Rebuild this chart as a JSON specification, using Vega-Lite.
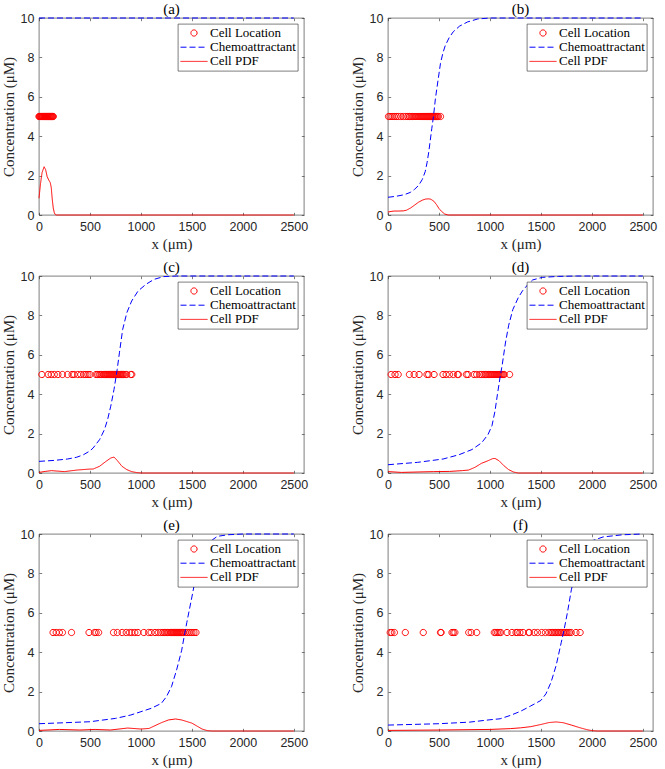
{
"$schema":"https://vega.github.io/schema/vega-lite/v6.json",
"background":"white",
"padding":{"left":0,"top":1,"right":5,"bottom":2},
"datasets":{
"chem":[
{"p":"a","x":0,"y":10},{"p":"a","x":500,"y":10},{"p":"a","x":1000,"y":10},{"p":"a","x":1500,"y":10},{"p":"a","x":2000,"y":10},{"p":"a","x":2500,"y":10},
{"p":"b","x":0,"y":0.9},{"p":"b","x":80,"y":0.95},{"p":"b","x":160,"y":1.03},{"p":"b","x":220,"y":1.15},{"p":"b","x":260,"y":1.3},{"p":"b","x":300,"y":1.5},{"p":"b","x":336,"y":1.8},{"p":"b","x":365,"y":2.2},{"p":"b","x":383,"y":2.65},{"p":"b","x":400,"y":3.2},{"p":"b","x":415,"y":3.8},{"p":"b","x":430,"y":4.4},{"p":"b","x":446,"y":5.0},{"p":"b","x":465,"y":5.9},{"p":"b","x":487,"y":6.7},{"p":"b","x":515,"y":7.7},{"p":"b","x":540,"y":8.25},{"p":"b","x":562,"y":8.6},{"p":"b","x":600,"y":9.0},{"p":"b","x":640,"y":9.3},{"p":"b","x":700,"y":9.58},{"p":"b","x":780,"y":9.8},{"p":"b","x":880,"y":9.95},{"p":"b","x":1000,"y":10},{"p":"b","x":2500,"y":10},
{"p":"c","x":0,"y":0.59},{"p":"c","x":150,"y":0.64},{"p":"c","x":280,"y":0.71},{"p":"c","x":370,"y":0.8},{"p":"c","x":437,"y":0.93},{"p":"c","x":500,"y":1.12},{"p":"c","x":531,"y":1.27},{"p":"c","x":594,"y":1.69},{"p":"c","x":642,"y":2.2},{"p":"c","x":673,"y":2.71},{"p":"c","x":704,"y":3.39},{"p":"c","x":736,"y":4.24},{"p":"c","x":767,"y":5.25},{"p":"c","x":789,"y":6.1},{"p":"c","x":821,"y":7.29},{"p":"c","x":862,"y":8.14},{"p":"c","x":909,"y":8.73},{"p":"c","x":972,"y":9.24},{"p":"c","x":1050,"y":9.58},{"p":"c","x":1129,"y":9.83},{"p":"c","x":1223,"y":9.97},{"p":"c","x":1350,"y":10},{"p":"c","x":2500,"y":10},
{"p":"d","x":0,"y":0.42},{"p":"d","x":289,"y":0.54},{"p":"d","x":541,"y":0.71},{"p":"d","x":698,"y":0.93},{"p":"d","x":824,"y":1.19},{"p":"d","x":918,"y":1.53},{"p":"d","x":981,"y":1.95},{"p":"d","x":1020,"y":2.4},{"p":"d","x":1050,"y":3.15},{"p":"d","x":1074,"y":4.0},{"p":"d","x":1099,"y":4.84},{"p":"d","x":1121,"y":5.5},{"p":"d","x":1152,"y":6.6},{"p":"d","x":1184,"y":7.5},{"p":"d","x":1225,"y":8.3},{"p":"d","x":1278,"y":8.9},{"p":"d","x":1320,"y":9.25},{"p":"d","x":1370,"y":9.55},{"p":"d","x":1419,"y":9.8},{"p":"d","x":1513,"y":9.93},{"p":"d","x":1670,"y":9.98},{"p":"d","x":1850,"y":10},{"p":"d","x":2500,"y":10},
{"p":"e","x":0,"y":0.37},{"p":"e","x":250,"y":0.42},{"p":"e","x":500,"y":0.47},{"p":"e","x":750,"y":0.64},{"p":"e","x":900,"y":0.81},{"p":"e","x":1000,"y":0.98},{"p":"e","x":1100,"y":1.15},{"p":"e","x":1200,"y":1.4},{"p":"e","x":1250,"y":1.74},{"p":"e","x":1300,"y":2.25},{"p":"e","x":1350,"y":3.1},{"p":"e","x":1400,"y":4.1},{"p":"e","x":1430,"y":4.96},{"p":"e","x":1450,"y":5.5},{"p":"e","x":1500,"y":6.8},{"p":"e","x":1530,"y":7.6},{"p":"e","x":1550,"y":7.95},{"p":"e","x":1600,"y":8.7},{"p":"e","x":1650,"y":9.3},{"p":"e","x":1700,"y":9.7},{"p":"e","x":1750,"y":9.88},{"p":"e","x":1850,"y":9.96},{"p":"e","x":2000,"y":10},{"p":"e","x":2500,"y":10},
{"p":"f","x":0,"y":0.3},{"p":"f","x":500,"y":0.37},{"p":"f","x":800,"y":0.45},{"p":"f","x":1000,"y":0.57},{"p":"f","x":1100,"y":0.62},{"p":"f","x":1200,"y":0.79},{"p":"f","x":1300,"y":1.0},{"p":"f","x":1400,"y":1.27},{"p":"f","x":1500,"y":1.55},{"p":"f","x":1550,"y":1.89},{"p":"f","x":1600,"y":2.48},{"p":"f","x":1650,"y":3.33},{"p":"f","x":1700,"y":4.5},{"p":"f","x":1730,"y":5.2},{"p":"f","x":1760,"y":6.0},{"p":"f","x":1800,"y":7.2},{"p":"f","x":1850,"y":8.1},{"p":"f","x":1900,"y":8.8},{"p":"f","x":1950,"y":9.3},{"p":"f","x":2000,"y":9.65},{"p":"f","x":2110,"y":9.85},{"p":"f","x":2300,"y":9.96},{"p":"f","x":2500,"y":10}
],
"pdf":[
{"p":"a","x":0,"y":0.85},{"p":"a","x":15,"y":1.6},{"p":"a","x":30,"y":2.15},{"p":"a","x":50,"y":2.45},{"p":"a","x":65,"y":2.3},{"p":"a","x":80,"y":1.95},{"p":"a","x":95,"y":1.78},{"p":"a","x":110,"y":1.65},{"p":"a","x":120,"y":1.4},{"p":"a","x":130,"y":0.8},{"p":"a","x":140,"y":0.35},{"p":"a","x":150,"y":0.12},{"p":"a","x":160,"y":0.02},{"p":"a","x":170,"y":0},{"p":"a","x":2500,"y":0},
{"p":"b","x":0,"y":0.15},{"p":"b","x":30,"y":0.18},{"p":"b","x":60,"y":0.2},{"p":"b","x":100,"y":0.2},{"p":"b","x":150,"y":0.21},{"p":"b","x":180,"y":0.24},{"p":"b","x":220,"y":0.35},{"p":"b","x":260,"y":0.5},{"p":"b","x":300,"y":0.65},{"p":"b","x":340,"y":0.76},{"p":"b","x":370,"y":0.81},{"p":"b","x":400,"y":0.82},{"p":"b","x":420,"y":0.8},{"p":"b","x":450,"y":0.7},{"p":"b","x":477,"y":0.52},{"p":"b","x":500,"y":0.33},{"p":"b","x":524,"y":0.19},{"p":"b","x":556,"y":0.05},{"p":"b","x":590,"y":0},{"p":"b","x":2500,"y":0},
{"p":"c","x":0,"y":0.03},{"p":"c","x":60,"y":0.08},{"p":"c","x":123,"y":0.12},{"p":"c","x":248,"y":0.07},{"p":"c","x":374,"y":0.15},{"p":"c","x":500,"y":0.2},{"p":"c","x":531,"y":0.2},{"p":"c","x":594,"y":0.34},{"p":"c","x":657,"y":0.59},{"p":"c","x":704,"y":0.76},{"p":"c","x":736,"y":0.81},{"p":"c","x":767,"y":0.64},{"p":"c","x":814,"y":0.34},{"p":"c","x":862,"y":0.17},{"p":"c","x":909,"y":0.07},{"p":"c","x":960,"y":0.02},{"p":"c","x":1003,"y":0},{"p":"c","x":2500,"y":0},
{"p":"d","x":0,"y":0.07},{"p":"d","x":132,"y":0.03},{"p":"d","x":446,"y":0.07},{"p":"d","x":604,"y":0.08},{"p":"d","x":729,"y":0.12},{"p":"d","x":791,"y":0.15},{"p":"d","x":854,"y":0.29},{"p":"d","x":917,"y":0.49},{"p":"d","x":980,"y":0.62},{"p":"d","x":1027,"y":0.73},{"p":"d","x":1050,"y":0.74},{"p":"d","x":1090,"y":0.62},{"p":"d","x":1137,"y":0.37},{"p":"d","x":1184,"y":0.17},{"p":"d","x":1231,"y":0.05},{"p":"d","x":1278,"y":0},{"p":"d","x":2500,"y":0},
{"p":"e","x":0,"y":0.03},{"p":"e","x":200,"y":0.08},{"p":"e","x":400,"y":0.05},{"p":"e","x":550,"y":0.08},{"p":"e","x":700,"y":0.05},{"p":"e","x":870,"y":0.15},{"p":"e","x":1000,"y":0.1},{"p":"e","x":1080,"y":0.13},{"p":"e","x":1150,"y":0.3},{"p":"e","x":1200,"y":0.42},{"p":"e","x":1270,"y":0.56},{"p":"e","x":1340,"y":0.61},{"p":"e","x":1400,"y":0.56},{"p":"e","x":1450,"y":0.48},{"p":"e","x":1500,"y":0.4},{"p":"e","x":1550,"y":0.25},{"p":"e","x":1600,"y":0.1},{"p":"e","x":1650,"y":0.02},{"p":"e","x":1700,"y":0},{"p":"e","x":2500,"y":0},
{"p":"f","x":0,"y":0.03},{"p":"f","x":500,"y":0.05},{"p":"f","x":1000,"y":0.08},{"p":"f","x":1200,"y":0.12},{"p":"f","x":1300,"y":0.16},{"p":"f","x":1400,"y":0.22},{"p":"f","x":1500,"y":0.33},{"p":"f","x":1580,"y":0.43},{"p":"f","x":1650,"y":0.46},{"p":"f","x":1720,"y":0.42},{"p":"f","x":1800,"y":0.3},{"p":"f","x":1880,"y":0.17},{"p":"f","x":1950,"y":0.07},{"p":"f","x":2000,"y":0.02},{"p":"f","x":2050,"y":0},{"p":"f","x":2500,"y":0}
],
"cells":[
{"p":"a","x":0,"y":5},{"p":"a","x":5,"y":5},{"p":"a","x":10,"y":5},{"p":"a","x":15,"y":5},{"p":"a","x":20,"y":5},{"p":"a","x":25,"y":5},{"p":"a","x":30,"y":5},{"p":"a","x":35,"y":5},{"p":"a","x":40,"y":5},{"p":"a","x":45,"y":5},{"p":"a","x":50,"y":5},{"p":"a","x":55,"y":5},{"p":"a","x":60,"y":5},{"p":"a","x":65,"y":5},{"p":"a","x":70,"y":5},{"p":"a","x":75,"y":5},{"p":"a","x":80,"y":5},{"p":"a","x":85,"y":5},{"p":"a","x":90,"y":5},{"p":"a","x":95,"y":5},{"p":"a","x":100,"y":5},{"p":"a","x":105,"y":5},{"p":"a","x":110,"y":5},{"p":"a","x":115,"y":5},{"p":"a","x":120,"y":5},{"p":"a","x":125,"y":5},{"p":"a","x":130,"y":5},{"p":"a","x":135,"y":5},{"p":"a","x":140,"y":5},
{"p":"b","x":5,"y":5},{"p":"b","x":20,"y":5},{"p":"b","x":40,"y":5},{"p":"b","x":60,"y":5},{"p":"b","x":80,"y":5},{"p":"b","x":100,"y":5},{"p":"b","x":125,"y":5},{"p":"b","x":150,"y":5},{"p":"b","x":175,"y":5},{"p":"b","x":195,"y":5},{"p":"b","x":210,"y":5},{"p":"b","x":225,"y":5},{"p":"b","x":240,"y":5},{"p":"b","x":255,"y":5},{"p":"b","x":265,"y":5},{"p":"b","x":275,"y":5},{"p":"b","x":285,"y":5},{"p":"b","x":295,"y":5},{"p":"b","x":305,"y":5},{"p":"b","x":315,"y":5},{"p":"b","x":325,"y":5},{"p":"b","x":335,"y":5},{"p":"b","x":345,"y":5},{"p":"b","x":355,"y":5},{"p":"b","x":365,"y":5},{"p":"b","x":375,"y":5},{"p":"b","x":385,"y":5},{"p":"b","x":395,"y":5},{"p":"b","x":405,"y":5},{"p":"b","x":415,"y":5},{"p":"b","x":425,"y":5},{"p":"b","x":435,"y":5},{"p":"b","x":445,"y":5},{"p":"b","x":455,"y":5},{"p":"b","x":465,"y":5},{"p":"b","x":475,"y":5},{"p":"b","x":485,"y":5},{"p":"b","x":495,"y":5},{"p":"b","x":515,"y":5},
{"p":"c","x":28,"y":5},{"p":"c","x":90,"y":5},{"p":"c","x":120,"y":5},{"p":"c","x":150,"y":5},{"p":"c","x":185,"y":5},{"p":"c","x":230,"y":5},{"p":"c","x":280,"y":5},{"p":"c","x":325,"y":5},{"p":"c","x":345,"y":5},{"p":"c","x":380,"y":5},{"p":"c","x":410,"y":5},{"p":"c","x":440,"y":5},{"p":"c","x":460,"y":5},{"p":"c","x":480,"y":5},{"p":"c","x":500,"y":5},{"p":"c","x":560,"y":5},{"p":"c","x":575,"y":5},{"p":"c","x":590,"y":5},{"p":"c","x":600,"y":5},{"p":"c","x":615,"y":5},{"p":"c","x":630,"y":5},{"p":"c","x":640,"y":5},{"p":"c","x":650,"y":5},{"p":"c","x":660,"y":5},{"p":"c","x":670,"y":5},{"p":"c","x":680,"y":5},{"p":"c","x":690,"y":5},{"p":"c","x":700,"y":5},{"p":"c","x":710,"y":5},{"p":"c","x":720,"y":5},{"p":"c","x":730,"y":5},{"p":"c","x":740,"y":5},{"p":"c","x":750,"y":5},{"p":"c","x":760,"y":5},{"p":"c","x":770,"y":5},{"p":"c","x":780,"y":5},{"p":"c","x":790,"y":5},{"p":"c","x":800,"y":5},{"p":"c","x":810,"y":5},{"p":"c","x":820,"y":5},{"p":"c","x":830,"y":5},{"p":"c","x":845,"y":5},{"p":"c","x":860,"y":5},{"p":"c","x":900,"y":5},{"p":"c","x":910,"y":5},
{"p":"d","x":31,"y":5},{"p":"d","x":69,"y":5},{"p":"d","x":100,"y":5},{"p":"d","x":210,"y":5},{"p":"d","x":257,"y":5},{"p":"d","x":305,"y":5},{"p":"d","x":383,"y":5},{"p":"d","x":399,"y":5},{"p":"d","x":452,"y":5},{"p":"d","x":540,"y":5},{"p":"d","x":571,"y":5},{"p":"d","x":603,"y":5},{"p":"d","x":641,"y":5},{"p":"d","x":681,"y":5},{"p":"d","x":691,"y":5},{"p":"d","x":769,"y":5},{"p":"d","x":785,"y":5},{"p":"d","x":845,"y":5},{"p":"d","x":870,"y":5},{"p":"d","x":901,"y":5},{"p":"d","x":920,"y":5},{"p":"d","x":940,"y":5},{"p":"d","x":955,"y":5},{"p":"d","x":970,"y":5},{"p":"d","x":985,"y":5},{"p":"d","x":1000,"y":5},{"p":"d","x":1010,"y":5},{"p":"d","x":1020,"y":5},{"p":"d","x":1030,"y":5},{"p":"d","x":1040,"y":5},{"p":"d","x":1050,"y":5},{"p":"d","x":1060,"y":5},{"p":"d","x":1070,"y":5},{"p":"d","x":1080,"y":5},{"p":"d","x":1090,"y":5},{"p":"d","x":1100,"y":5},{"p":"d","x":1110,"y":5},{"p":"d","x":1120,"y":5},{"p":"d","x":1130,"y":5},{"p":"d","x":1140,"y":5},{"p":"d","x":1193,"y":5},
{"p":"e","x":138,"y":5},{"p":"e","x":169,"y":5},{"p":"e","x":200,"y":5},{"p":"e","x":230,"y":5},{"p":"e","x":319,"y":5},{"p":"e","x":491,"y":5},{"p":"e","x":544,"y":5},{"p":"e","x":560,"y":5},{"p":"e","x":585,"y":5},{"p":"e","x":731,"y":5},{"p":"e","x":769,"y":5},{"p":"e","x":816,"y":5},{"p":"e","x":856,"y":5},{"p":"e","x":888,"y":5},{"p":"e","x":910,"y":5},{"p":"e","x":940,"y":5},{"p":"e","x":970,"y":5},{"p":"e","x":1028,"y":5},{"p":"e","x":1075,"y":5},{"p":"e","x":1100,"y":5},{"p":"e","x":1138,"y":5},{"p":"e","x":1170,"y":5},{"p":"e","x":1195,"y":5},{"p":"e","x":1215,"y":5},{"p":"e","x":1230,"y":5},{"p":"e","x":1245,"y":5},{"p":"e","x":1260,"y":5},{"p":"e","x":1275,"y":5},{"p":"e","x":1290,"y":5},{"p":"e","x":1300,"y":5},{"p":"e","x":1310,"y":5},{"p":"e","x":1320,"y":5},{"p":"e","x":1330,"y":5},{"p":"e","x":1340,"y":5},{"p":"e","x":1350,"y":5},{"p":"e","x":1360,"y":5},{"p":"e","x":1370,"y":5},{"p":"e","x":1380,"y":5},{"p":"e","x":1390,"y":5},{"p":"e","x":1400,"y":5},{"p":"e","x":1410,"y":5},{"p":"e","x":1420,"y":5},{"p":"e","x":1440,"y":5},{"p":"e","x":1460,"y":5},{"p":"e","x":1480,"y":5},{"p":"e","x":1500,"y":5},{"p":"e","x":1520,"y":5},{"p":"e","x":1540,"y":5},
{"p":"f","x":22,"y":5},{"p":"f","x":38,"y":5},{"p":"f","x":63,"y":5},{"p":"f","x":170,"y":5},{"p":"f","x":346,"y":5},{"p":"f","x":515,"y":5},{"p":"f","x":521,"y":5},{"p":"f","x":628,"y":5},{"p":"f","x":641,"y":5},{"p":"f","x":656,"y":5},{"p":"f","x":792,"y":5},{"p":"f","x":817,"y":5},{"p":"f","x":870,"y":5},{"p":"f","x":1043,"y":5},{"p":"f","x":1058,"y":5},{"p":"f","x":1074,"y":5},{"p":"f","x":1090,"y":5},{"p":"f","x":1106,"y":5},{"p":"f","x":1168,"y":5},{"p":"f","x":1216,"y":5},{"p":"f","x":1256,"y":5},{"p":"f","x":1269,"y":5},{"p":"f","x":1294,"y":5},{"p":"f","x":1326,"y":5},{"p":"f","x":1379,"y":5},{"p":"f","x":1388,"y":5},{"p":"f","x":1435,"y":5},{"p":"f","x":1467,"y":5},{"p":"f","x":1508,"y":5},{"p":"f","x":1545,"y":5},{"p":"f","x":1577,"y":5},{"p":"f","x":1600,"y":5},{"p":"f","x":1615,"y":5},{"p":"f","x":1630,"y":5},{"p":"f","x":1645,"y":5},{"p":"f","x":1660,"y":5},{"p":"f","x":1675,"y":5},{"p":"f","x":1690,"y":5},{"p":"f","x":1705,"y":5},{"p":"f","x":1720,"y":5},{"p":"f","x":1735,"y":5},{"p":"f","x":1750,"y":5},{"p":"f","x":1765,"y":5},{"p":"f","x":1780,"y":5},{"p":"f","x":1797,"y":5},{"p":"f","x":1844,"y":5},{"p":"f","x":1885,"y":5}
]
},
"columns":2,
"spacing":{"row":61,"column":84},
"bounds":"flush",
"resolve":{"scale":{"color":"independent","shape":"independent","strokeDash":"independent"},"legend":{"color":"independent","shape":"independent","strokeDash":"independent"}},
"concat":[
{"title":"(a)","width":265,"height":197,"layer":[
{"data":{"name":"cells"},"transform":[{"filter":"datum.p=='a'"}],"mark":{"type":"point","filled":false,"size":729,"strokeWidth":1,"opacity":1},"encoding":{"x":{"field":"x","type":"quantitative","scale":{"domain":[0,2500]},"axis":null},"y":{"field":"y","type":"quantitative","scale":{"domain":[0,10]},"axis":null},"color":{"datum":"Cell Location","type":"nominal","scale":{"domain":["Cell Location","Chemoattractant","Cell PDF"],"range":["#ff0000","#0000ff","#ff0000"]},"legend":{"title":null}},"shape":{"datum":"Cell Location","type":"nominal","scale":{"domain":["Cell Location","Chemoattractant","Cell PDF"],"range":["M0.23,0A0.23,0.23,0,1,1,-0.23,0A0.23,0.23,0,1,1,0.23,0Z","stroke","stroke"]},"legend":{"title":null}}}},
{"data":{"name":"chem"},"transform":[{"filter":"datum.p=='a'"}],"mark":{"type":"line","strokeWidth":1},"encoding":{"x":{"field":"x","type":"quantitative","axis":{"orient":"bottom","title":"x (μm)","values":[0,500,1000,1500,2000,2500]}},"y":{"field":"y","type":"quantitative","axis":{"orient":"left","title":"Concentration (μM)","values":[0,2,4,6,8,10]}},"color":{"datum":"Chemoattractant","type":"nominal"},"strokeDash":{"datum":"Chemoattractant","type":"nominal","scale":{"domain":["Cell Location","Chemoattractant","Cell PDF"],"range":[[1,0],[6,3],[1,0]]},"legend":{"title":null}}}},
{"data":{"name":"pdf"},"transform":[{"filter":"datum.p=='a'"}],"mark":{"type":"line","strokeWidth":1},"encoding":{"x":{"field":"x","type":"quantitative","axis":{"orient":"top","title":null,"labels":false,"values":[0,500,1000,1500,2000,2500]}},"y":{"field":"y","type":"quantitative","axis":{"orient":"right","title":null,"labels":false,"values":[0,2,4,6,8,10]}},"color":{"datum":"Cell PDF","type":"nominal"},"strokeDash":{"datum":"Cell PDF","type":"nominal"}}}
]},
{"title":"(b)","width":265,"height":197,"layer":[
{"data":{"name":"cells"},"transform":[{"filter":"datum.p=='b'"}],"mark":{"type":"point","filled":false,"size":729,"strokeWidth":1,"opacity":1},"encoding":{"x":{"field":"x","type":"quantitative","scale":{"domain":[0,2500]},"axis":null},"y":{"field":"y","type":"quantitative","scale":{"domain":[0,10]},"axis":null},"color":{"datum":"Cell Location","type":"nominal","scale":{"domain":["Cell Location","Chemoattractant","Cell PDF"],"range":["#ff0000","#0000ff","#ff0000"]},"legend":{"title":null}},"shape":{"datum":"Cell Location","type":"nominal","scale":{"domain":["Cell Location","Chemoattractant","Cell PDF"],"range":["M0.23,0A0.23,0.23,0,1,1,-0.23,0A0.23,0.23,0,1,1,0.23,0Z","stroke","stroke"]},"legend":{"title":null}}}},
{"data":{"name":"chem"},"transform":[{"filter":"datum.p=='b'"}],"mark":{"type":"line","strokeWidth":1},"encoding":{"x":{"field":"x","type":"quantitative","axis":{"orient":"bottom","title":"x (μm)","values":[0,500,1000,1500,2000,2500]}},"y":{"field":"y","type":"quantitative","axis":{"orient":"left","title":"Concentration (μM)","values":[0,2,4,6,8,10]}},"color":{"datum":"Chemoattractant","type":"nominal"},"strokeDash":{"datum":"Chemoattractant","type":"nominal","scale":{"domain":["Cell Location","Chemoattractant","Cell PDF"],"range":[[1,0],[6,3],[1,0]]},"legend":{"title":null}}}},
{"data":{"name":"pdf"},"transform":[{"filter":"datum.p=='b'"}],"mark":{"type":"line","strokeWidth":1},"encoding":{"x":{"field":"x","type":"quantitative","axis":{"orient":"top","title":null,"labels":false,"values":[0,500,1000,1500,2000,2500]}},"y":{"field":"y","type":"quantitative","axis":{"orient":"right","title":null,"labels":false,"values":[0,2,4,6,8,10]}},"color":{"datum":"Cell PDF","type":"nominal"},"strokeDash":{"datum":"Cell PDF","type":"nominal"}}}
]},
{"title":"(c)","width":265,"height":197,"layer":[
{"data":{"name":"cells"},"transform":[{"filter":"datum.p=='c'"}],"mark":{"type":"point","filled":false,"size":729,"strokeWidth":1,"opacity":1},"encoding":{"x":{"field":"x","type":"quantitative","scale":{"domain":[0,2500]},"axis":null},"y":{"field":"y","type":"quantitative","scale":{"domain":[0,10]},"axis":null},"color":{"datum":"Cell Location","type":"nominal","scale":{"domain":["Cell Location","Chemoattractant","Cell PDF"],"range":["#ff0000","#0000ff","#ff0000"]},"legend":{"title":null}},"shape":{"datum":"Cell Location","type":"nominal","scale":{"domain":["Cell Location","Chemoattractant","Cell PDF"],"range":["M0.23,0A0.23,0.23,0,1,1,-0.23,0A0.23,0.23,0,1,1,0.23,0Z","stroke","stroke"]},"legend":{"title":null}}}},
{"data":{"name":"chem"},"transform":[{"filter":"datum.p=='c'"}],"mark":{"type":"line","strokeWidth":1},"encoding":{"x":{"field":"x","type":"quantitative","axis":{"orient":"bottom","title":"x (μm)","values":[0,500,1000,1500,2000,2500]}},"y":{"field":"y","type":"quantitative","axis":{"orient":"left","title":"Concentration (μM)","values":[0,2,4,6,8,10]}},"color":{"datum":"Chemoattractant","type":"nominal"},"strokeDash":{"datum":"Chemoattractant","type":"nominal","scale":{"domain":["Cell Location","Chemoattractant","Cell PDF"],"range":[[1,0],[6,3],[1,0]]},"legend":{"title":null}}}},
{"data":{"name":"pdf"},"transform":[{"filter":"datum.p=='c'"}],"mark":{"type":"line","strokeWidth":1},"encoding":{"x":{"field":"x","type":"quantitative","axis":{"orient":"top","title":null,"labels":false,"values":[0,500,1000,1500,2000,2500]}},"y":{"field":"y","type":"quantitative","axis":{"orient":"right","title":null,"labels":false,"values":[0,2,4,6,8,10]}},"color":{"datum":"Cell PDF","type":"nominal"},"strokeDash":{"datum":"Cell PDF","type":"nominal"}}}
]},
{"title":"(d)","width":265,"height":197,"layer":[
{"data":{"name":"cells"},"transform":[{"filter":"datum.p=='d'"}],"mark":{"type":"point","filled":false,"size":729,"strokeWidth":1,"opacity":1},"encoding":{"x":{"field":"x","type":"quantitative","scale":{"domain":[0,2500]},"axis":null},"y":{"field":"y","type":"quantitative","scale":{"domain":[0,10]},"axis":null},"color":{"datum":"Cell Location","type":"nominal","scale":{"domain":["Cell Location","Chemoattractant","Cell PDF"],"range":["#ff0000","#0000ff","#ff0000"]},"legend":{"title":null}},"shape":{"datum":"Cell Location","type":"nominal","scale":{"domain":["Cell Location","Chemoattractant","Cell PDF"],"range":["M0.23,0A0.23,0.23,0,1,1,-0.23,0A0.23,0.23,0,1,1,0.23,0Z","stroke","stroke"]},"legend":{"title":null}}}},
{"data":{"name":"chem"},"transform":[{"filter":"datum.p=='d'"}],"mark":{"type":"line","strokeWidth":1},"encoding":{"x":{"field":"x","type":"quantitative","axis":{"orient":"bottom","title":"x (μm)","values":[0,500,1000,1500,2000,2500]}},"y":{"field":"y","type":"quantitative","axis":{"orient":"left","title":"Concentration (μM)","values":[0,2,4,6,8,10]}},"color":{"datum":"Chemoattractant","type":"nominal"},"strokeDash":{"datum":"Chemoattractant","type":"nominal","scale":{"domain":["Cell Location","Chemoattractant","Cell PDF"],"range":[[1,0],[6,3],[1,0]]},"legend":{"title":null}}}},
{"data":{"name":"pdf"},"transform":[{"filter":"datum.p=='d'"}],"mark":{"type":"line","strokeWidth":1},"encoding":{"x":{"field":"x","type":"quantitative","axis":{"orient":"top","title":null,"labels":false,"values":[0,500,1000,1500,2000,2500]}},"y":{"field":"y","type":"quantitative","axis":{"orient":"right","title":null,"labels":false,"values":[0,2,4,6,8,10]}},"color":{"datum":"Cell PDF","type":"nominal"},"strokeDash":{"datum":"Cell PDF","type":"nominal"}}}
]},
{"title":"(e)","width":265,"height":197,"layer":[
{"data":{"name":"cells"},"transform":[{"filter":"datum.p=='e'"}],"mark":{"type":"point","filled":false,"size":729,"strokeWidth":1,"opacity":1},"encoding":{"x":{"field":"x","type":"quantitative","scale":{"domain":[0,2500]},"axis":null},"y":{"field":"y","type":"quantitative","scale":{"domain":[0,10]},"axis":null},"color":{"datum":"Cell Location","type":"nominal","scale":{"domain":["Cell Location","Chemoattractant","Cell PDF"],"range":["#ff0000","#0000ff","#ff0000"]},"legend":{"title":null}},"shape":{"datum":"Cell Location","type":"nominal","scale":{"domain":["Cell Location","Chemoattractant","Cell PDF"],"range":["M0.23,0A0.23,0.23,0,1,1,-0.23,0A0.23,0.23,0,1,1,0.23,0Z","stroke","stroke"]},"legend":{"title":null}}}},
{"data":{"name":"chem"},"transform":[{"filter":"datum.p=='e'"}],"mark":{"type":"line","strokeWidth":1},"encoding":{"x":{"field":"x","type":"quantitative","axis":{"orient":"bottom","title":"x (μm)","values":[0,500,1000,1500,2000,2500]}},"y":{"field":"y","type":"quantitative","axis":{"orient":"left","title":"Concentration (μM)","values":[0,2,4,6,8,10]}},"color":{"datum":"Chemoattractant","type":"nominal"},"strokeDash":{"datum":"Chemoattractant","type":"nominal","scale":{"domain":["Cell Location","Chemoattractant","Cell PDF"],"range":[[1,0],[6,3],[1,0]]},"legend":{"title":null}}}},
{"data":{"name":"pdf"},"transform":[{"filter":"datum.p=='e'"}],"mark":{"type":"line","strokeWidth":1},"encoding":{"x":{"field":"x","type":"quantitative","axis":{"orient":"top","title":null,"labels":false,"values":[0,500,1000,1500,2000,2500]}},"y":{"field":"y","type":"quantitative","axis":{"orient":"right","title":null,"labels":false,"values":[0,2,4,6,8,10]}},"color":{"datum":"Cell PDF","type":"nominal"},"strokeDash":{"datum":"Cell PDF","type":"nominal"}}}
]},
{"title":"(f)","width":265,"height":197,"layer":[
{"data":{"name":"cells"},"transform":[{"filter":"datum.p=='f'"}],"mark":{"type":"point","filled":false,"size":729,"strokeWidth":1,"opacity":1},"encoding":{"x":{"field":"x","type":"quantitative","scale":{"domain":[0,2500]},"axis":null},"y":{"field":"y","type":"quantitative","scale":{"domain":[0,10]},"axis":null},"color":{"datum":"Cell Location","type":"nominal","scale":{"domain":["Cell Location","Chemoattractant","Cell PDF"],"range":["#ff0000","#0000ff","#ff0000"]},"legend":{"title":null}},"shape":{"datum":"Cell Location","type":"nominal","scale":{"domain":["Cell Location","Chemoattractant","Cell PDF"],"range":["M0.23,0A0.23,0.23,0,1,1,-0.23,0A0.23,0.23,0,1,1,0.23,0Z","stroke","stroke"]},"legend":{"title":null}}}},
{"data":{"name":"chem"},"transform":[{"filter":"datum.p=='f'"}],"mark":{"type":"line","strokeWidth":1},"encoding":{"x":{"field":"x","type":"quantitative","axis":{"orient":"bottom","title":"x (μm)","values":[0,500,1000,1500,2000,2500]}},"y":{"field":"y","type":"quantitative","axis":{"orient":"left","title":"Concentration (μM)","values":[0,2,4,6,8,10]}},"color":{"datum":"Chemoattractant","type":"nominal"},"strokeDash":{"datum":"Chemoattractant","type":"nominal","scale":{"domain":["Cell Location","Chemoattractant","Cell PDF"],"range":[[1,0],[6,3],[1,0]]},"legend":{"title":null}}}},
{"data":{"name":"pdf"},"transform":[{"filter":"datum.p=='f'"}],"mark":{"type":"line","strokeWidth":1},"encoding":{"x":{"field":"x","type":"quantitative","axis":{"orient":"top","title":null,"labels":false,"values":[0,500,1000,1500,2000,2500]}},"y":{"field":"y","type":"quantitative","axis":{"orient":"right","title":null,"labels":false,"values":[0,2,4,6,8,10]}},"color":{"datum":"Cell PDF","type":"nominal"},"strokeDash":{"datum":"Cell PDF","type":"nominal"}}}
]}
],
"config":{
"view":{"stroke":"#262626","strokeWidth":0.6},
"title":{"font":"Liberation Serif","fontSize":15,"fontWeight":"normal","color":"#000000","offset":-5,"frame":"group","anchor":"middle"},
"axis":{"grid":false,"domain":false,"ticks":true,"tickSize":-2.7,"tickColor":"#262626","tickWidth":0.6,"format":"d","labelFont":"Liberation Sans","labelFontSize":12.5,"labelColor":"#262626","labelFlush":false,"labelOverlap":false,"titleFont":"Liberation Serif","titleFontSize":15,"titleFontWeight":"normal","titleColor":"#262626"},
"axisBottom":{"labelPadding":8.5,"titlePadding":3},
"axisLeft":{"labelPadding":7.7,"titlePadding":4},
"legend":{"orient":"top-right","offset":6,"fillColor":"#ffffff","strokeColor":"#262626","strokeWidth":0.6,"labelFont":"Liberation Serif","labelFontSize":13,"labelColor":"#000000","padding":2,"rowPadding":0.2,"labelOffset":2,"clipHeight":14,"symbolSize":729,"symbolStrokeWidth":1}
}
}
